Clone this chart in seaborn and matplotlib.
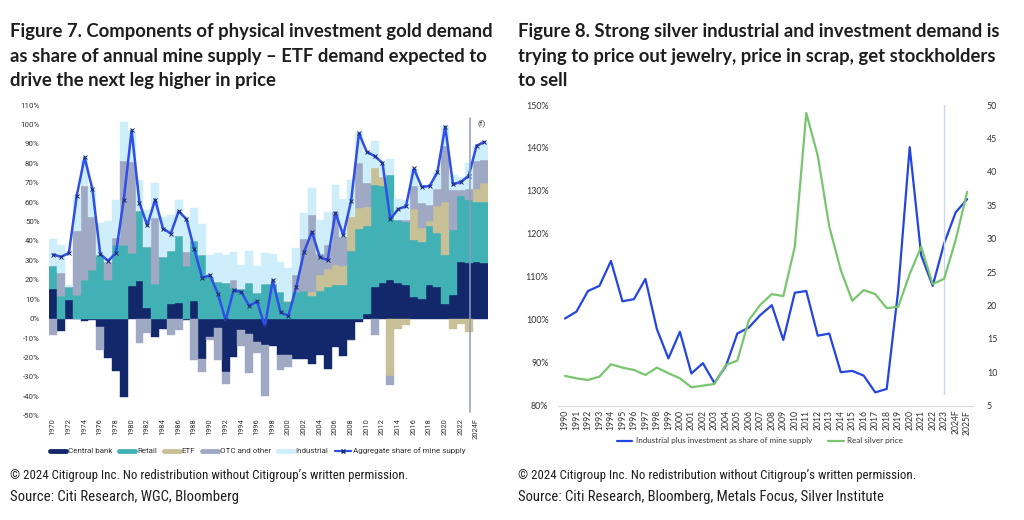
import matplotlib
matplotlib.use("Agg")
import matplotlib.pyplot as plt
from matplotlib.lines import Line2D
import numpy as np
import pandas as pd
import seaborn as sns
import logging
logging.getLogger("matplotlib.font_manager").setLevel(logging.ERROR)

# ---------------- data: Figure 7 (gold) ----------------
gold_years = list(range(1970, 2026))
gold_tick_text = [str(y) if y != 2024 else "2024F" for y in range(1970, 2025, 2)]

central_bank = [15, -6.4, 9.8, -0.3, -1.2, -0.8, -4.3, -20.5, -27.1, -40.4,
                16.7, 19.6, 5.7, -9.4, -5.3, 7.7, 8.2, -0.5, 8.9, -20.6,
                -9.5, -5, -27.5, -20, -6, -7.7, -12, -13.4, -14.3, -18.6,
                -18.6, -20.6, -20.6, -23.2, -18.9, -25.8, -14.6, -19.4, -10.8, -1.7,
                2.6, 16.3, 18.4, 19.8, 18.4, 17.2, 11.2, 10.3, 17.5, 16.3,
                7.4, 12, 29.2, 28.4, 29.2, 28.4]
retail = [12.3, 11.5, 6.5, 12, 19.8, 24.9, 32.6, 19.8, 37.8, 37.8,
          17.1, 35.7, 31.2, 18, 31.8, 27, 34.2, 27, 31.1, 32.6,
          21.5, 18.9, 18.4, 16, 15.5, 18.4, 13.2, 18, 18, 13.7,
          8.7, 13.7, 14, 11.5, 14.2, 16.3, 17.2, 17.5, 35, 46.4,
          45, 52.4, 50, 54.4, 32.3, 32.6, 29.3, 29.2, 30.1, 28,
          25.6, 33.5, 33.8, 32.6, 30.8, 31.6]
etf = [0, 0, 0, 0, 0, 0, 0, 0, 0, 0,
       0, 0, 0, 0, 0, 0, 0, 0, 0, 0,
       0, 0, 0, 0, 0, 0, 0, 0, 0, 0,
       0.4, 0, 0, 2.2, 8.3, 9.3, 10.6, 9.6, 17.4, 10.8,
       10, 8.6, 4.5, -29.7, -5.2, -3.4, 16.2, 7.4, 2.7, 13.6,
       27, -5.2, -2.9, -6.9, 6.5, 10]
otc_other = [-8.2, 12, 0, 33.2, 48.4, 27.5, -11.7, 9.4, 3.8, 43.5,
             47, -12.4, -7.4, 34, 0, -8.6, -6, 7.4, -21.5, -6.9,
             -1.5, -16.5, -6.3, 3.8, -8.3, -20.3, -5.7, -26.6, 0, -8,
             -6.3, 9, 26.9, 39.6, 10.7, 12.2, 27, 15, -0.4, 23,
             12, -8.2, 0, -4.7, 0, 1.2, 11.5, 12.4, 8.1, 8.6,
             29, 20.7, 3, 6, 14.8, 11.6]
industrial = [13.6, 14.3, 1.2, 18.3, 13.4, 15, 16.4, 21, 19.4, 20.1,
              16, 16, 19.1, 18, 20.6, 18.6, 18.6, 17.1, 17.2, 15.9,
              11.1, 14.9, 14.2, 14.6, 12.3, 16.3, 13.8, 15.8, 15.5, 15.5,
              17, 13.7, 13.6, 14.2, 17.5, 17.2, 13.9, 19.5, 19, 16,
              16, 14.3, 8, 8, 11, 10.3, 9, 8.9, 9.1, 8.8,
              10, 8, 7, 13, 7.7, 9.4]
aggregate_share = [33, 31.8, 33.8, 63.2, 83, 66.7, 33.2, 29.7, 33.8, 61.3,
                   97, 59.6, 48, 61.3, 46.4, 43.8, 55.3, 51.2, 35.6, 21,
                   22.3, 12.9, -0.9, 14.6, 13.7, 6.5, 8.9, -4, 19.8, 3.2,
                   1.4, 16.3, 34.4, 44.7, 31.8, 30, 54.5, 43, 60.6, 95.4,
                   85.9, 83.7, 80.2, 51.2, 56.4, 57.9, 77.3, 67.9, 68.2, 75.3,
                   98.8, 69.1, 70.4, 73.5, 89, 91]

# ---------------- data: Figure 8 (silver) ----------------
silver_years = [str(y) for y in range(1990, 2024)] + ["2024F", "2025F"]
share_of_mine_supply = [100.3, 101.9, 106.7, 107.9, 113.7, 104.3, 104.8, 109.5, 97.8, 91.0,
                        97.2, 87.5, 89.9, 85.3, 89.2, 96.8, 98.2, 101.1, 103.4, 95.3,
                        106.3, 106.7, 96.3, 96.8, 87.8, 88.1, 87.0, 83.1, 83.9, 106.9,
                        140.2, 115.0, 107.9, 117.8, 125.0, 128.1]
real_silver_price = [9.45, 9.1, 8.85, 9.35, 11.2, 10.7, 10.35, 9.6, 10.7, 9.85,
                     9.1, 7.75, 8.0, 8.25, 11.1, 11.75, 17.8, 20.1, 21.7, 21.4,
                     28.8, 48.8, 42.4, 31.8, 25.3, 20.7, 22.3, 21.7, 19.6, 19.8,
                     24.7, 28.8, 23.2, 24.0, 29.8, 37.0]

# ---------------- style ----------------
sns.set_theme(style="white")
plt.rcParams['font.family'] = ['Lato', 'DejaVu Sans']

C_CB, C_RET, C_ETF, C_OTC, C_IND = "#13286b", "#42b1b6", "#c8c096", "#a0a9c4", "#cdeefa"
C_AGG = "#2f4fe6"
C_BLUE, C_GREEN = "#2545e0", "#78c66e"
TXT = "#1e1e1e"
FOOT_FAMILY = ["Roboto Condensed", "Archivo Narrow", "Barlow Semi Condensed", "DejaVu Sans"]

W, H = 1024, 520
fig = plt.figure(figsize=(W / 100, H / 100), dpi=100)
fx = lambda px: px / W
fy = lambda py: 1 - py / H
renderer = fig.canvas.get_renderer()


def fit_text(xp, yp, s, target_w, size, **kw):
    t = fig.text(fx(xp), fy(yp), s, fontsize=size, **kw)
    w = t.get_window_extent(renderer).width
    t.set_fontsize(size * target_w / w)
    return t


# ---------------- left chart ----------------
axL = fig.add_axes([fx(49.3), fy(415.7), (488.3 - 49.3) / W, (415.7 - 105) / H])
n = len(gold_years)
x = np.arange(n)
pos = np.zeros(n)
neg = np.zeros(n)
for vals, col in [(central_bank, C_CB), (retail, C_RET), (etf, C_ETF),
                  (otc_other, C_OTC), (industrial, C_IND)]:
    v = np.array(vals, dtype=float)
    base = np.where(v >= 0, pos, neg)
    axL.bar(x, v, bottom=base, width=1.0, color=col, edgecolor=col,
            linewidth=0.3, zorder=2)
    pos += np.where(v > 0, v, 0)
    neg += np.where(v < 0, v, 0)

agg_df = pd.DataFrame({"x": x, "share": aggregate_share})
sns.lineplot(data=agg_df, x="x", y="share", ax=axL, color=C_AGG, linewidth=1.8,
             marker="x", markersize=2.6, markeredgecolor="#1b2a6b",
             markeredgewidth=0.7, zorder=5)
axL.axvline(53.22, ymin=(-48 + 50) / 160, ymax=(103.5 + 50) / 160,
            color="#8e9bbf", linewidth=1.1, zorder=6)
axL.text(54.65, 100.2, "(f)", fontsize=5.8, color="#333333", ha="center",
         va="center", family="Roboto")

axL.set_xlim(-0.5, n - 0.5)
axL.set_ylim(-50, 110)
axL.set_xticks(range(0, 55, 2))
axL.set_xticklabels(gold_tick_text, rotation=90, fontsize=5.4, color="#333333",
                    family="Roboto")
axL.set_yticks(range(-50, 111, 10))
axL.set_yticklabels([f"{v}%" for v in range(-50, 111, 10)], fontsize=5.7,
                    color="#333333", family="Roboto")
axL.tick_params(axis="both", length=0)
axL.tick_params(axis="x", pad=2)
axL.tick_params(axis="y", pad=7)
for s in axL.spines.values():
    s.set_visible(False)
axL.set_xlabel("")
axL.set_ylabel("")
axL.set_facecolor("none")

handlesL = [Line2D([], [], color=C_CB, lw=3.5),
            Line2D([], [], color=C_RET, lw=3.5),
            Line2D([], [], color=C_ETF, lw=3.5),
            Line2D([], [], color=C_OTC, lw=3.5),
            Line2D([], [], color=C_IND, lw=3.5),
            Line2D([], [], color=C_AGG, lw=1.6, marker="x", markersize=2.5,
                   markeredgecolor="#1b2a6b")]
labelsL = ["Central bank", "Retail", "ETF", "OTC and other", "Industrial",
           "Aggregate share of mine supply"]
legL = fig.legend(handlesL, labelsL, loc="center", bbox_to_anchor=(fx(258), fy(451)),
                  ncol=6, frameon=False, handlelength=2.0, handletextpad=0.25,
                  columnspacing=0.8, prop={"family": "Roboto", "size": 5.8})
for t in legL.get_texts():
    t.set_color("#333333")

# ---------------- right chart ----------------
axR = fig.add_axes([fx(558.1), fy(405.7), (972.9 - 558.1) / W, (405.7 - 105) / H])
axR2 = axR.twinx()
xs = np.arange(len(silver_years))
df_s = pd.DataFrame({"x": xs, "share": share_of_mine_supply, "price": real_silver_price})
sns.lineplot(data=df_s, x="x", y="share", ax=axR, color=C_BLUE, linewidth=1.6)
sns.lineplot(data=df_s, x="x", y="price", ax=axR2, color=C_GREEN, linewidth=1.6)
axR2.plot([33, 33], [6.75, 50], color="#c9d5f4", linewidth=1.0, zorder=1)

axR.set_xlim(-0.6, 35.5)
axR.set_ylim(80, 150)
axR2.set_ylim(5, 50)
axR.set_xticks(xs)
axR.set_xticklabels(silver_years, rotation=90, fontsize=6.2, color="#333333",
                    family="Lato")
axR.set_yticks(range(80, 151, 10))
axR.set_yticklabels([f"{v}%" for v in range(80, 151, 10)], fontsize=6.4,
                    color="#333333", family="Lato")
axR2.set_yticks(range(5, 51, 5))
axR2.set_yticklabels([str(v) for v in range(5, 51, 5)], fontsize=6.4,
                     color="#333333", family="Lato")
for a in (axR, axR2):
    a.tick_params(axis="both", length=0)
    for s in a.spines.values():
        s.set_visible(False)
    a.set_xlabel("")
    a.set_ylabel("")
axR.spines["bottom"].set_visible(True)
axR.spines["bottom"].set_color("#d9d9d9")
axR.spines["bottom"].set_linewidth(0.8)
axR.tick_params(axis="x", pad=3)
axR.tick_params(axis="y", pad=7)
axR2.tick_params(axis="y", pad=10)

handlesR = [Line2D([], [], color=C_BLUE, lw=1.6), Line2D([], [], color=C_GREEN, lw=1.6)]
labelsR = ["Industrial plus investment as share of mine supply", "Real silver price"]
legR = fig.legend(handlesR, labelsR, loc="center", bbox_to_anchor=(fx(760), fy(441)),
                  ncol=2, frameon=False, handlelength=1.9, handletextpad=0.45,
                  columnspacing=2.0, prop={"family": "Lato", "size": 5.8})
for t in legR.get_texts():
    t.set_color("#333333")

# ---------------- titles & footers ----------------
title_lines_L = ["Figure 7. Components of physical investment gold demand",
                 "as share of annual mine supply \u2013 ETF demand expected to",
                 "drive the next leg higher in price"]
title_lines_R = ["Figure 8. Strong silver industrial and investment demand is",
                 "trying to price out jewelry, price in scrap, get stockholders",
                 "to sell"]
title_kw = dict(fontweight="bold", color=TXT, va="center", ha="left",
                family=["Lato", "DejaVu Sans"])
t0 = fit_text(10, 32, title_lines_L[0], 484, 12.3, **title_kw)
tsize = t0.get_fontsize()
for i, line in enumerate(title_lines_L[1:], start=1):
    fig.text(fx(10), fy(32 + 24.3 * i), line, fontsize=tsize, **title_kw)
for i, line in enumerate(title_lines_R):
    fig.text(fx(518), fy(32 + 24.3 * i), line, fontsize=tsize, **title_kw)

foot_kw = dict(color=TXT, va="center", ha="left", family=FOOT_FAMILY)
copy_txt = "\u00a9 2024 Citigroup Inc. No redistribution without Citigroup\u2019s written permission."
tf = fit_text(10, 476, copy_txt, 398, 9.0, **foot_kw)
fsize = tf.get_fontsize()
fig.text(fx(518), fy(476), copy_txt, fontsize=fsize, **foot_kw)
fit_text(10, 497, "Source: Citi Research, WGC, Bloomberg", 229, 9.5, **foot_kw)
fit_text(518, 497, "Source: Citi Research, Bloomberg, Metals Focus, Silver Institute", 366, 9.5,
         **foot_kw)

fig.savefig("out.png", dpi=100, facecolor="white")
